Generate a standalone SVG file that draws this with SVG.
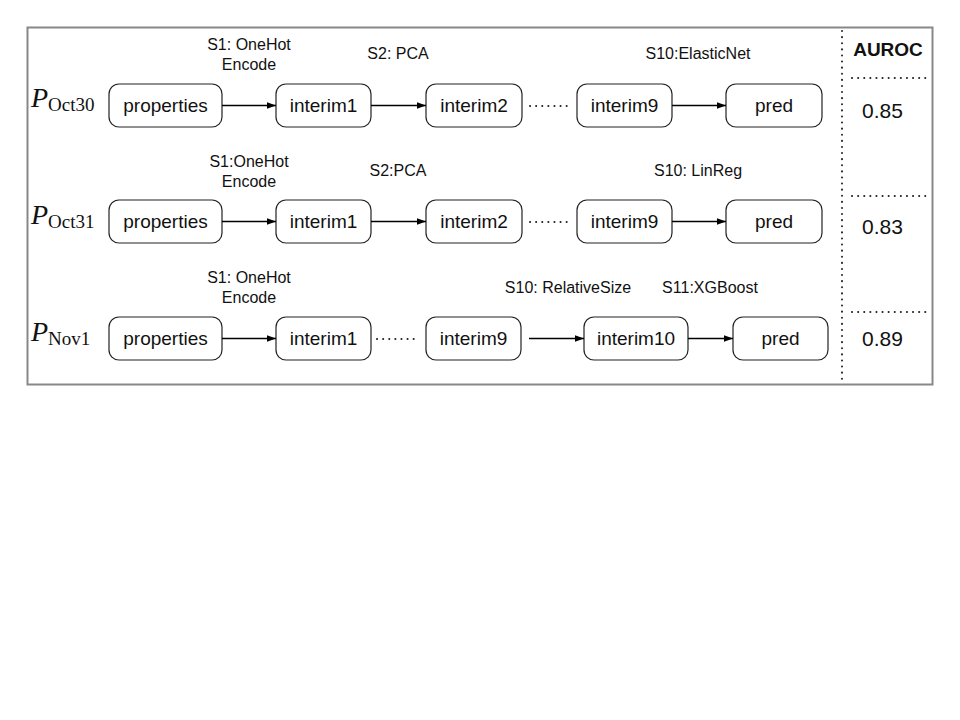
<svg xmlns="http://www.w3.org/2000/svg" width="960" height="720" viewBox="0 0 960 720">
<defs>
<marker id="ah" viewBox="0 0 10 10" refX="10" refY="5" markerWidth="9" markerHeight="9" markerUnits="userSpaceOnUse" orient="auto">
<path d="M0,1.5 L10,5 L0,8.5 z" fill="#000"/>
</marker>
<style>
.node rect{fill:#fff;stroke:#222;stroke-width:1.2}
.node text{font-family:"Liberation Sans",Arial,sans-serif;font-size:19px;fill:#111;text-anchor:middle}
.lbl{font-family:"Liberation Sans",Arial,sans-serif;font-size:16px;fill:#111;text-anchor:middle}
.arr{stroke:#000;stroke-width:1.5;fill:none;marker-end:url(#ah)}
.dot{stroke:#222;stroke-width:2;stroke-linecap:round;stroke-dasharray:0.1 6;fill:none}
.pl{font-family:"Liberation Serif","DejaVu Serif",serif;fill:#111}
.num{font-family:"Liberation Sans",Arial,sans-serif;font-size:21px;fill:#111}
</style>
</defs>
<rect width="960" height="720" fill="#fff"/>
<rect x="27.5" y="27.5" width="905" height="357" fill="#fff" stroke="#888" stroke-width="2"/>

<!-- row labels -->
<g id="p-oct30"><text class="pl" x="31" y="107" font-size="28" font-style="italic">P</text><text class="pl" x="48" y="111" font-size="19">Oct30</text></g>
<g id="p-oct31"><text class="pl" x="31" y="224" font-size="28" font-style="italic">P</text><text class="pl" x="48" y="228" font-size="19">Oct31</text></g>
<g id="p-nov1"><text class="pl" x="31" y="341" font-size="28" font-style="italic">P</text><text class="pl" x="48" y="345" font-size="19">Nov1</text></g>

<!-- row 1 -->
<g id="r1-properties" class="node"><rect x="109" y="84" width="113" height="43" rx="10"/><text x="165.5" y="112">properties</text></g>
<g id="r1-interim1" class="node"><rect x="276" y="84" width="95" height="43" rx="10"/><text x="323.5" y="112">interim1</text></g>
<g id="r1-interim2" class="node"><rect x="426" y="84" width="96" height="43" rx="10"/><text x="474" y="112">interim2</text></g>
<g id="r1-interim9" class="node"><rect x="577" y="84" width="95" height="43" rx="10"/><text x="624.5" y="112">interim9</text></g>
<g id="r1-pred" class="node"><rect x="726" y="84" width="96" height="43" rx="10"/><text x="774" y="112">pred</text></g>

<!-- row 2 -->
<g id="r2-properties" class="node"><rect x="109" y="200" width="113" height="43" rx="10"/><text x="165.5" y="228">properties</text></g>
<g id="r2-interim1" class="node"><rect x="276" y="200" width="95" height="43" rx="10"/><text x="323.5" y="228">interim1</text></g>
<g id="r2-interim2" class="node"><rect x="426" y="200" width="96" height="43" rx="10"/><text x="474" y="228">interim2</text></g>
<g id="r2-interim9" class="node"><rect x="577" y="200" width="95" height="43" rx="10"/><text x="624.5" y="228">interim9</text></g>
<g id="r2-pred" class="node"><rect x="726" y="200" width="96" height="43" rx="10"/><text x="774" y="228">pred</text></g>

<!-- row 3 -->
<g id="r3-properties" class="node"><rect x="109" y="317" width="113" height="43" rx="10"/><text x="165.5" y="345">properties</text></g>
<g id="r3-interim1" class="node"><rect x="276" y="317" width="95" height="43" rx="10"/><text x="323.5" y="345">interim1</text></g>
<g id="r3-interim9" class="node"><rect x="426" y="317" width="95" height="43" rx="10"/><text x="473.5" y="345">interim9</text></g>
<g id="r3-interim10" class="node"><rect x="584" y="317" width="104" height="43" rx="10"/><text x="636" y="345">interim10</text></g>
<g id="r3-pred" class="node"><rect x="733" y="317" width="95" height="43" rx="10"/><text x="780.5" y="345">pred</text></g>

<!-- connectors -->
<g id="connectors">
<line class="arr" x1="222" y1="105.5" x2="276" y2="105.5"/>
<line class="arr" x1="371" y1="105.5" x2="426" y2="105.5"/>
<line class="dot" x1="530" y1="106" x2="572" y2="106"/>
<line class="arr" x1="672" y1="105.5" x2="726" y2="105.5"/>

<line class="arr" x1="222" y1="221.5" x2="276" y2="221.5"/>
<line class="arr" x1="371" y1="221.5" x2="426" y2="221.5"/>
<line class="dot" x1="530" y1="222" x2="572" y2="222"/>
<line class="arr" x1="672" y1="221.5" x2="726" y2="221.5"/>

<line class="arr" x1="222" y1="338.5" x2="276" y2="338.5"/>
<line class="dot" x1="377" y1="339" x2="419" y2="339"/>
<line class="arr" x1="529" y1="338.5" x2="584" y2="338.5"/>
<line class="arr" x1="688" y1="338.5" x2="733" y2="338.5"/>
</g>

<!-- step labels -->
<g id="labels">
<text class="lbl" x="249" y="50">S1: OneHot</text>
<text class="lbl" x="249" y="70">Encode</text>
<text class="lbl" x="398" y="59">S2: PCA</text>
<text class="lbl" x="698" y="59">S10:ElasticNet</text>

<text class="lbl" x="249" y="167">S1:OneHot</text>
<text class="lbl" x="249" y="187">Encode</text>
<text class="lbl" x="398" y="176">S2:PCA</text>
<text class="lbl" x="698" y="176">S10: LinReg</text>

<text class="lbl" x="249" y="283">S1: OneHot</text>
<text class="lbl" x="249" y="303">Encode</text>
<text class="lbl" x="568" y="293">S10: RelativeSize</text>
<text class="lbl" x="710" y="293">S11:XGBoost</text>
</g>

<!-- AUROC column -->
<g id="auroc">
<line class="dot" x1="842" y1="31" x2="842" y2="382"/>
<line class="dot" x1="852" y1="78" x2="928" y2="78"/>
<line class="dot" x1="852" y1="196" x2="928" y2="196"/>
<line class="dot" x1="852" y1="312" x2="928" y2="312"/>
<text x="888" y="56" font-family="Liberation Sans,Arial,sans-serif" font-size="19" font-weight="bold" text-anchor="middle" fill="#111">AUROC</text>
<text class="num" x="862" y="118">0.85</text>
<text class="num" x="862" y="234">0.83</text>
<text class="num" x="862" y="346">0.89</text>
</g>
</svg>
